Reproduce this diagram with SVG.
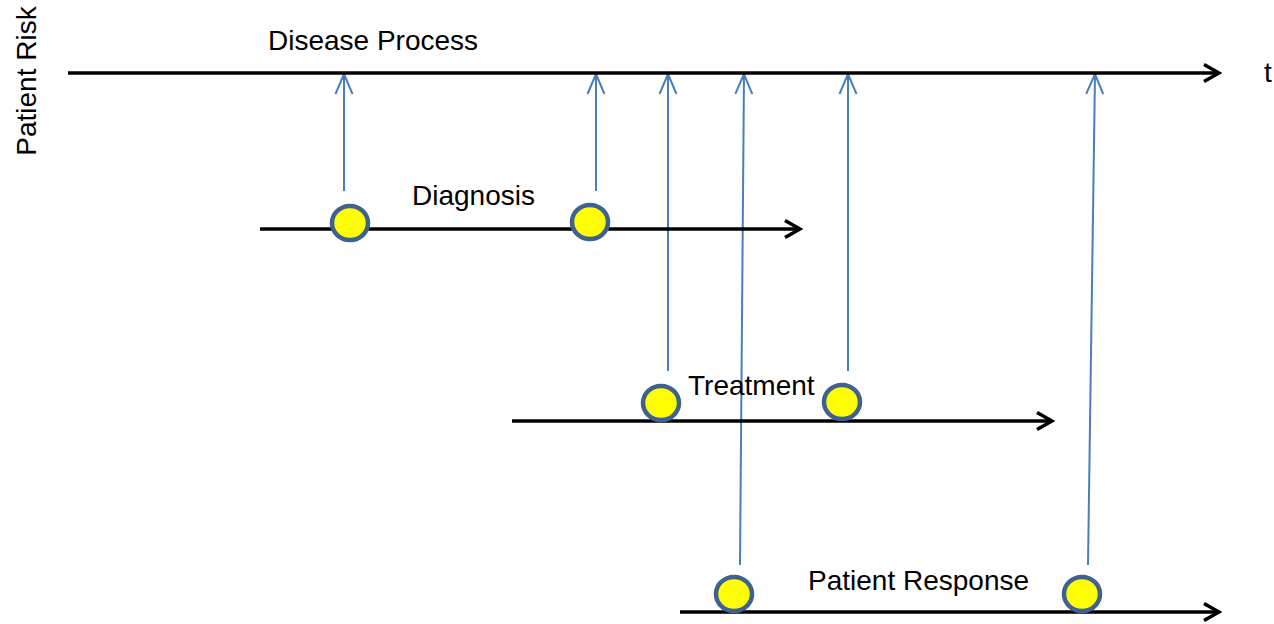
<svg xmlns="http://www.w3.org/2000/svg" width="1274" height="624" viewBox="0 0 1274 624">
<style>
.lbl{font-family:"Liberation Sans",Arial,sans-serif;font-size:28px;fill:#000}
.axis{stroke:#000;stroke-width:3.5;fill:none}
.link{stroke:#4a7ebb;stroke-width:2;fill:none}
.dot{fill:#ffff00;stroke:#3e6190;stroke-width:4.5}
</style>
<defs>
<marker id="blk" markerUnits="userSpaceOnUse" viewBox="0 0 20 20" refX="17" refY="10" markerWidth="20" markerHeight="20" orient="auto">
<path d="M2,1.5 L17,10 L2,18.5" fill="none" stroke="#000" stroke-width="3.5"/>
</marker>
<marker id="blu" markerUnits="userSpaceOnUse" viewBox="0 0 24 20" refX="22" refY="10" markerWidth="24" markerHeight="20" orient="auto">
<path d="M2,1.5 L22,10 L2,18.5" fill="none" stroke="#4a7ebb" stroke-width="2"/>
</marker>
</defs>
<rect width="1274" height="624" fill="#fff"/>
<g id="connectors">
<line class="link" x1="344" y1="191" x2="344" y2="74" marker-end="url(#blu)"/>
<line class="link" x1="596" y1="191" x2="596" y2="74" marker-end="url(#blu)"/>
<line class="link" x1="668" y1="371" x2="668" y2="74" marker-end="url(#blu)"/>
<line class="link" x1="848" y1="371" x2="848" y2="74" marker-end="url(#blu)"/>
<line class="link" x1="740" y1="565" x2="744" y2="74" marker-end="url(#blu)"/>
<line class="link" x1="1088" y1="565" x2="1095" y2="74" marker-end="url(#blu)"/>
</g>
<g id="disease-process">
<line class="axis" x1="68" y1="73" x2="1219" y2="73" marker-end="url(#blk)"/>
<text class="lbl" x="268" y="50">Disease Process</text>
<text class="lbl" x="1264" y="82">t</text>
</g>
<g id="patient-risk">
<text class="lbl" transform="translate(36,81) rotate(-90)" text-anchor="middle">Patient Risk</text>
</g>
<g id="diagnosis">
<line class="axis" x1="260" y1="229" x2="800" y2="229" marker-end="url(#blk)"/>
<text class="lbl" x="412" y="205">Diagnosis</text>
<ellipse class="dot" cx="350" cy="223" rx="18" ry="17"/>
<ellipse class="dot" cx="590" cy="222" rx="18" ry="17"/>
</g>
<g id="treatment">
<line class="axis" x1="512" y1="421" x2="1052" y2="421" marker-end="url(#blk)"/>
<text class="lbl" x="688" y="395">Treatment</text>
<ellipse class="dot" cx="661" cy="403" rx="18" ry="17"/>
<ellipse class="dot" cx="842" cy="402" rx="18" ry="17"/>
</g>
<g id="patient-response">
<line class="axis" x1="680" y1="612" x2="1219" y2="612" marker-end="url(#blk)"/>
<text class="lbl" x="808" y="590">Patient Response</text>
<ellipse class="dot" cx="734" cy="594" rx="18" ry="17"/>
<ellipse class="dot" cx="1082" cy="594" rx="18" ry="17"/>
</g>
</svg>
